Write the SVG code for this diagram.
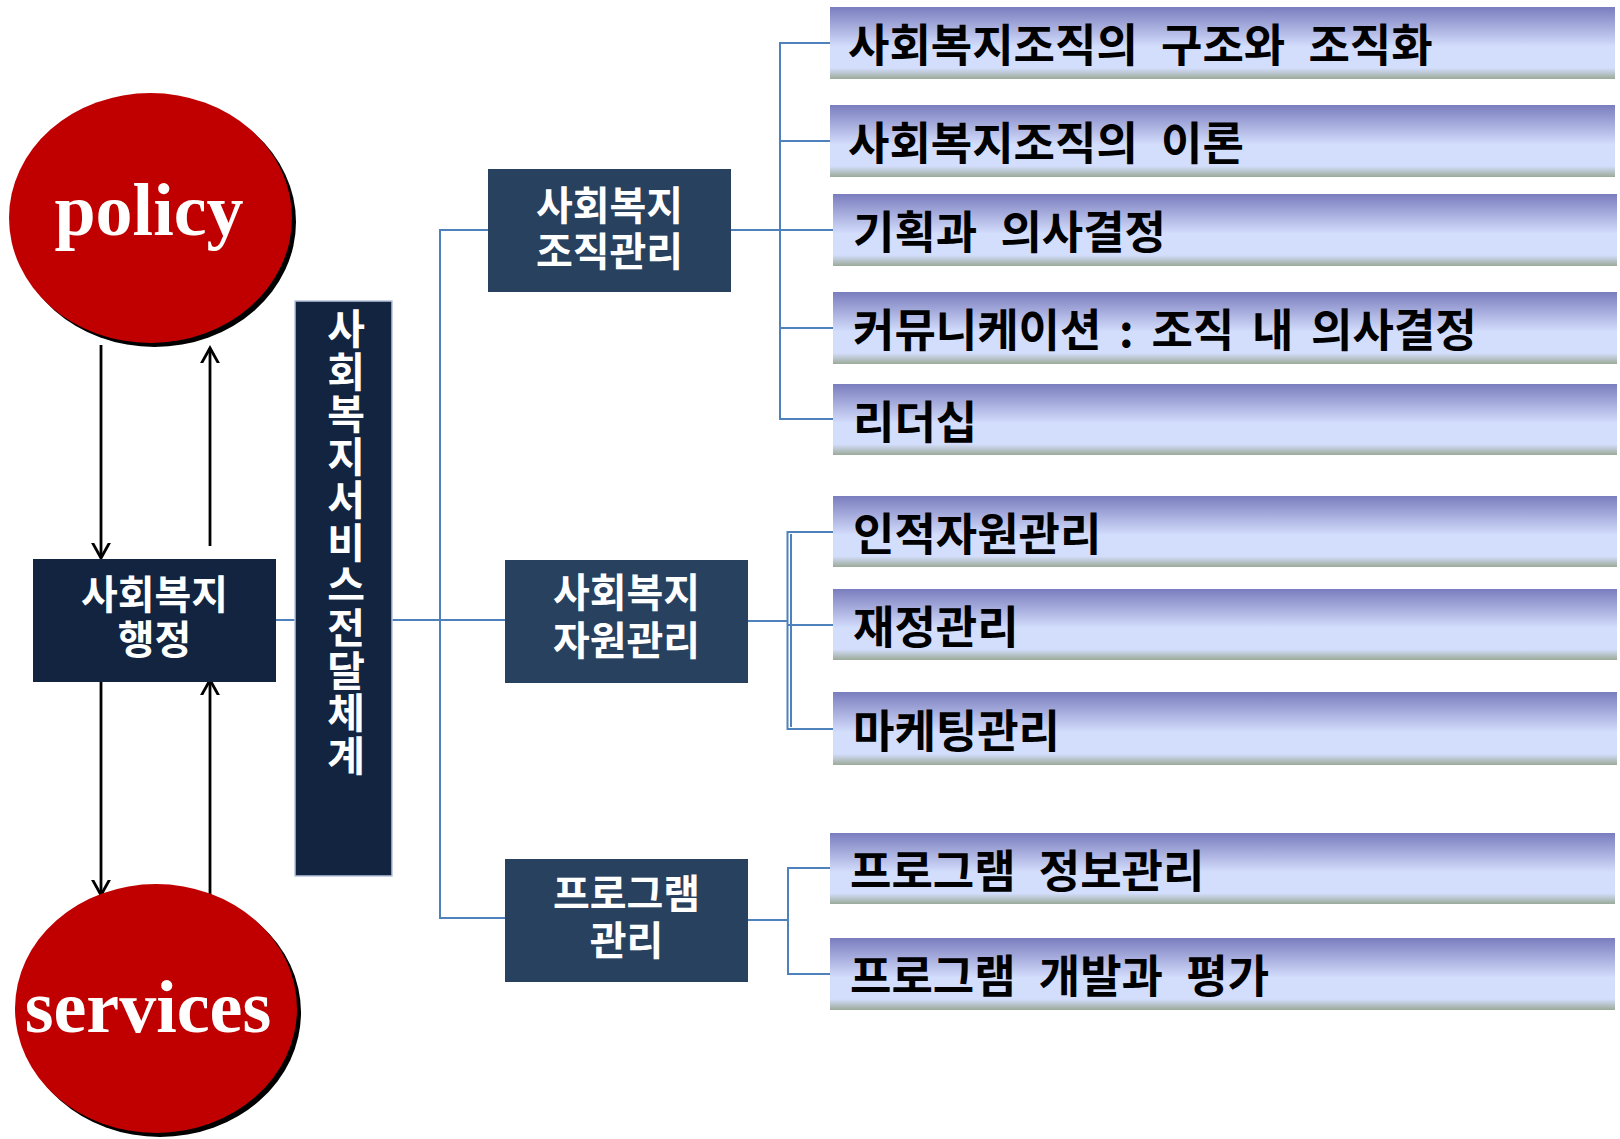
<svg xmlns="http://www.w3.org/2000/svg" width="1620" height="1139" viewBox="0 0 1620 1139">
<style>
.conn{stroke:#4F81BD;stroke-width:2;fill:none}
.arr{stroke:#000;stroke-width:2.8;fill:none}
.navy{fill:#12243F}
.slate{fill:#27415F}
.wt{fill:#fff;font-family:"Noto Sans CJK KR","Noto Sans",sans-serif;font-weight:bold;font-size:40px;text-anchor:middle}
.vt{fill:#fff;font-family:"Noto Sans CJK KR","Noto Sans",sans-serif;font-weight:bold;font-size:41px;writing-mode:vertical-rl;text-orientation:upright;letter-spacing:1.7px}
.big{fill:#fff;font-family:"Liberation Serif","DejaVu Serif",serif;font-weight:bold;font-size:74px;text-anchor:middle}
.item{fill:url(#ig)}
.it{fill:#000;font-family:"Noto Sans CJK KR","Noto Sans",sans-serif;font-weight:bold;font-size:45px;word-spacing:13px}
</style>
<defs>
<linearGradient id="ig" x1="0" y1="0" x2="0" y2="1">
<stop offset="0" stop-color="#7A7DBE"/>
<stop offset="0.55" stop-color="#D3DDFC"/>
<stop offset="0.85" stop-color="#D3DDFC"/>
<stop offset="1" stop-color="#9BAA98"/>
</linearGradient>
<marker id="ah" markerUnits="userSpaceOnUse" markerWidth="30" markerHeight="30" viewBox="-15 -15 30 30" refX="0" refY="0" orient="auto">
<path d="M-18,-10 L0,0 L-18,10" stroke="#000" stroke-width="2.8" fill="none"/>
</marker>
</defs>
<rect width="1620" height="1139" fill="#fff"/>

<g id="connectors">
<line class="conn" x1="276" y1="620" x2="505" y2="620"/>
<polyline class="conn" points="488,230 440,230 440,918 505,918"/>
<line class="conn" x1="731" y1="230" x2="833" y2="230"/>
<polyline class="conn" points="830,43 780,43 780,419 833,419"/>
<line class="conn" x1="780" y1="141" x2="830" y2="141"/>
<line class="conn" x1="780" y1="328" x2="833" y2="328"/>
<line class="conn" x1="748" y1="621" x2="788" y2="621"/>
<polyline class="conn" points="833,532 787.5,532 787.5,729 833,729"/>
<line class="conn" x1="791" y1="534" x2="791" y2="727"/>
<line class="conn" x1="788" y1="625" x2="833" y2="625"/>
<line class="conn" x1="748" y1="920" x2="788" y2="920"/>
<polyline class="conn" points="830,868 788,868 788,974 830,974"/>
<line class="arr" x1="101" y1="345" x2="101" y2="558" marker-end="url(#ah)"/>
<line class="arr" x1="210" y1="546" x2="210" y2="348" marker-end="url(#ah)"/>
<line class="arr" x1="101" y1="682" x2="101" y2="895" marker-end="url(#ah)"/>
<line class="arr" x1="210" y1="895" x2="210" y2="680" marker-end="url(#ah)"/>
</g>

<g id="policy">
<ellipse cx="154.5" cy="222" rx="141.5" ry="125" fill="#000"/>
<ellipse cx="150.5" cy="218" rx="141.5" ry="125" fill="#C00000"/>
<text class="big" x="149" y="235">policy</text>
</g>

<g id="services">
<ellipse cx="160" cy="1012.5" rx="141" ry="124.5" fill="#000"/>
<ellipse cx="156" cy="1008.5" rx="141" ry="124.5" fill="#C00000"/>
<text class="big" x="148" y="1032">services</text>
</g>

<g id="admin">
<rect class="navy" x="33" y="559" width="243" height="123"/>
<text class="wt"><tspan x="154.5" y="609">사회복지</tspan><tspan x="154.5" y="654">행정</tspan></text>
</g>

<g id="delivery">
<rect class="navy" x="295" y="301" width="97" height="575" stroke="#B8C4E0" stroke-width="1.5"/>
<text class="vt" x="346" y="308">사회복지서비스전달체계</text>
</g>

<g id="org-mgmt">
<rect class="slate" x="488" y="169" width="243" height="123"/>
<text class="wt"><tspan x="609.5" y="220">사회복지</tspan><tspan x="609.5" y="266">조직관리</tspan></text>
</g>

<g id="resource-mgmt">
<rect class="slate" x="505" y="560" width="243" height="123"/>
<text class="wt"><tspan x="626.5" y="607">사회복지</tspan><tspan x="626.5" y="655">자원관리</tspan></text>
</g>

<g id="program-mgmt">
<rect class="slate" x="505" y="859" width="243" height="123"/>
<text class="wt"><tspan x="626.5" y="908">프로그램</tspan><tspan x="626.5" y="955">관리</tspan></text>
</g>

<g id="item1"><rect class="item" x="830" y="7" width="785" height="72"/><text class="it" x="848" y="62">사회복지조직의 구조와 조직화</text></g>
<g id="item2"><rect class="item" x="830" y="105" width="785" height="72"/><text class="it" x="848" y="160">사회복지조직의 이론</text></g>
<g id="item3"><rect class="item" x="833" y="194" width="784" height="72"/><text class="it" x="853" y="249">기획과 의사결정</text></g>
<g id="item4"><rect class="item" x="833" y="292" width="784" height="72"/><text class="it" x="853" y="347" style="word-spacing:7.5px">커뮤니케이션 : 조직 내 의사결정</text></g>
<g id="item5"><rect class="item" x="833" y="384" width="784" height="71"/><text class="it" x="853" y="439">리더십</text></g>
<g id="item6"><rect class="item" x="833" y="496" width="784" height="71"/><text class="it" x="853" y="551">인적자원관리</text></g>
<g id="item7"><rect class="item" x="833" y="589" width="784" height="71"/><text class="it" x="853" y="644">재정관리</text></g>
<g id="item8"><rect class="item" x="833" y="692" width="784" height="73"/><text class="it" x="853" y="748">마케팅관리</text></g>
<g id="item9"><rect class="item" x="830" y="833" width="785" height="71"/><text class="it" x="850" y="888">프로그램 정보관리</text></g>
<g id="item10"><rect class="item" x="830" y="938" width="785" height="72"/><text class="it" x="850" y="993">프로그램 개발과 평가</text></g>
</svg>
